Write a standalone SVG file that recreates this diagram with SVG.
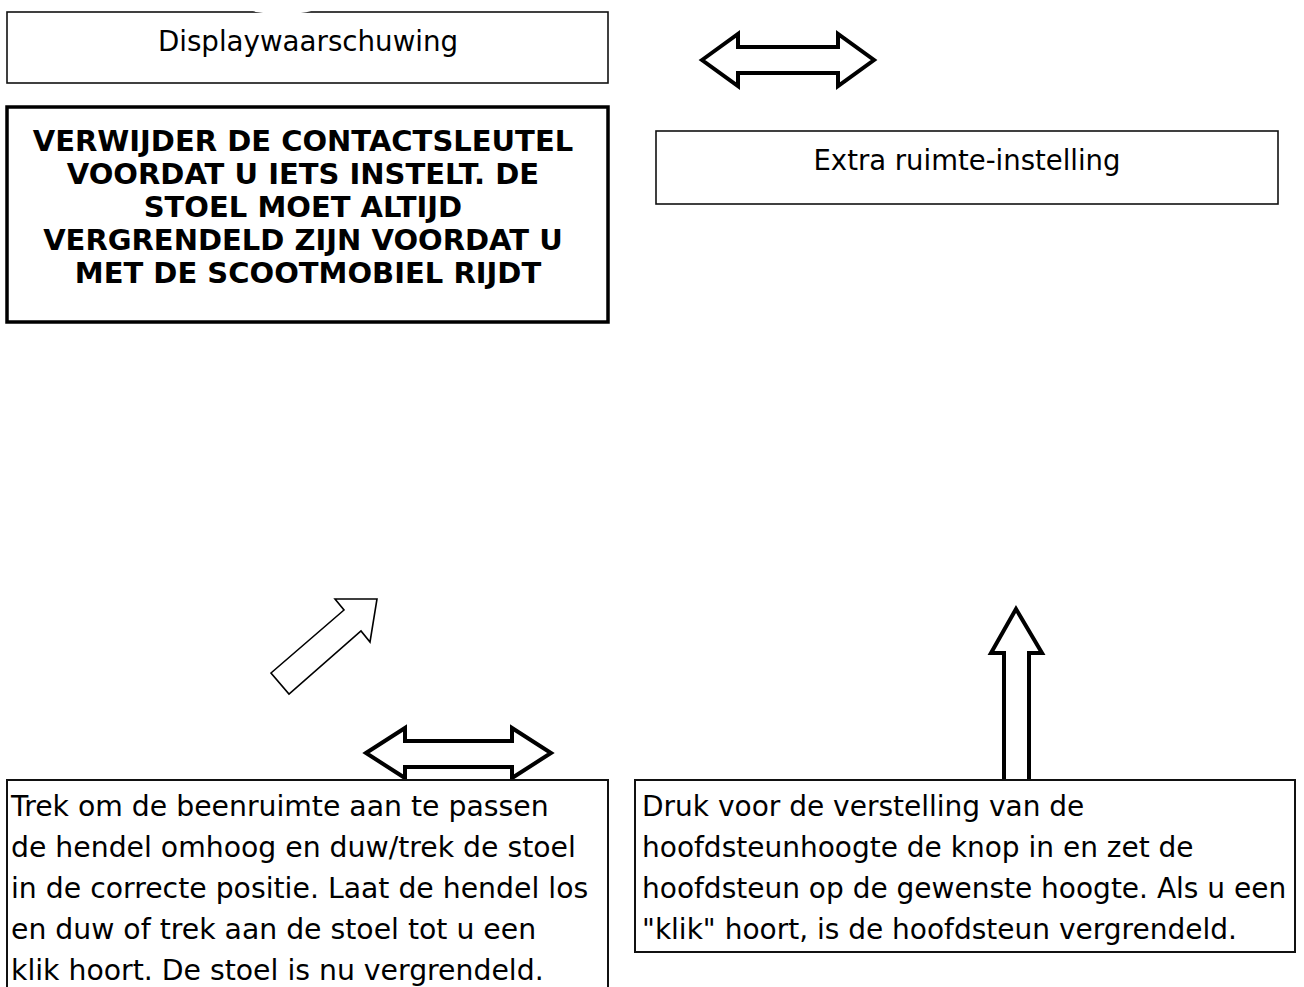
<svg xmlns="http://www.w3.org/2000/svg" width="1304" height="987" viewBox="0 0 1304 987">
<style>
.t{font-family:"DejaVu Sans",Verdana,sans-serif;fill:#000}
.b{font-weight:bold}
.thin{fill:#fff;stroke:#111;stroke-width:1.6}
.arrow{fill:#fff;stroke:#000;stroke-width:4;stroke-linejoin:miter}
.arrow-thin{fill:#fff;stroke:#000;stroke-width:1.6;stroke-linejoin:miter}
</style>
<rect width="1304" height="987" fill="#fff"/>
<g id="connectors">
  <polygon class="arrow" points="702,60 738,34 738,47 838,47 838,34 874,60 838,86 838,73 738,73 738,86"/>
  <polygon class="arrow-thin" points="335,599 377,599 370,642 361,631 289,694 271,673 344,610"/>
  <polygon class="arrow" points="366,753 405,728 405,741 512,741 512,728 551,753 512,778 512,767 405,767 405,778"/>
  <polygon class="arrow" points="1016,609 1042,653 1029,653 1029,781 1004,781 1004,653 991,653"/>
</g>
<g id="node-display-warning">
  <rect class="thin" x="7" y="12" width="601" height="71"/>
  <ellipse cx="282" cy="8" rx="34" ry="6" fill="#fff"/>
  <text class="t" x="308" y="51" font-size="27.7" text-anchor="middle">Displaywaarschuwing</text>
</g>
<g id="node-warning">
  <rect x="7" y="107" width="601" height="215" fill="#fff" stroke="#000" stroke-width="3.5"/>
  <text class="t b" font-size="29" text-anchor="middle">
    <tspan x="308" y="151">VERWIJDER DE CONTACTSLEUTEL</tspan>
    <tspan x="308" y="184">VOORDAT U IETS INSTELT. DE</tspan>
    <tspan x="308" y="217">STOEL MOET ALTIJD</tspan>
    <tspan x="308" y="250">VERGRENDELD ZIJN VOORDAT U</tspan>
    <tspan x="308" y="283">MET DE SCOOTMOBIEL RIJDT</tspan>
  </text>
</g>
<g id="node-extra-space">
  <rect class="thin" x="656" y="131" width="622" height="73"/>
  <text class="t" x="967" y="170" font-size="27.5" text-anchor="middle">Extra ruimte-instelling</text>
</g>
<g id="node-legroom">
  <path d="M7,995 V780 H608 V995" fill="#fff" stroke="#111" stroke-width="2"/>
  <text class="t" font-size="28.3">
    <tspan x="11" y="816">Trek om de beenruimte aan te passen</tspan>
    <tspan x="11" y="857">de hendel omhoog en duw/trek de stoel</tspan>
    <tspan x="11" y="898">in de correcte positie. Laat de hendel los</tspan>
    <tspan x="11" y="939">en duw of trek aan de stoel tot u een</tspan>
    <tspan x="11" y="980">klik hoort. De stoel is nu vergrendeld.</tspan>
  </text>
</g>
<g id="node-headrest">
  <rect x="635" y="780" width="660" height="172" fill="#fff" stroke="#111" stroke-width="2"/>
  <text class="t" font-size="28">
    <tspan x="642" y="816">Druk voor de verstelling van de</tspan>
    <tspan x="642" y="857">hoofdsteunhoogte de knop in en zet de</tspan>
    <tspan x="642" y="898">hoofdsteun op de gewenste hoogte. Als u een</tspan>
    <tspan x="642" y="939">"klik" hoort, is de hoofdsteun vergrendeld.</tspan>
  </text>
</g>
</svg>
